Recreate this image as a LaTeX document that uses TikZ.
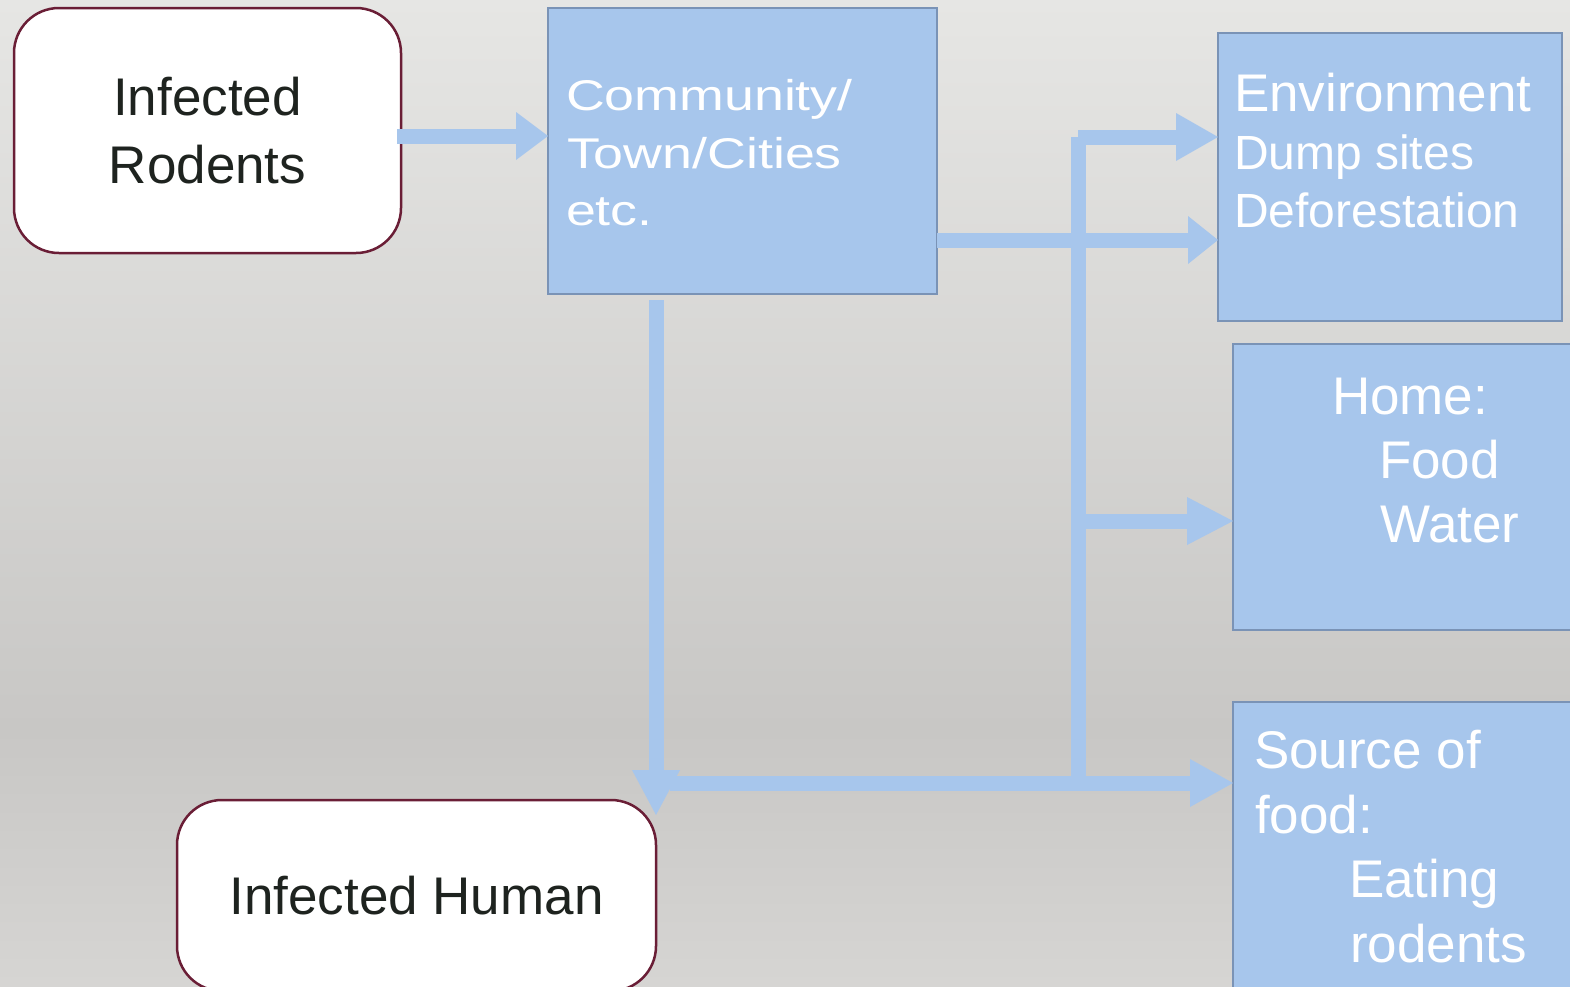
\documentclass[tikz,border=0pt]{standalone}
\usepackage{fontspec}
\setmainfont{Liberation Sans}
\newfontfamily\widefont[FakeStretch=1.25]{Liberation Sans}
\usetikzlibrary{arrows.meta,calc}
\definecolor{boxfill}{HTML}{A7C6EC}
\definecolor{boxline}{HTML}{7A93B6}
\definecolor{rodline}{HTML}{6A1E36}
\definecolor{txtdark}{HTML}{1E231F}
\definecolor{bgtop}{HTML}{E6E6E4}
\definecolor{bgmid}{HTML}{C8C7C5}
\definecolor{bgbot}{HTML}{D6D5D3}
\pgfdeclareverticalshading{bgshade}{100bp}{color(0bp)=(bgbot); color(25bp)=(bgbot); color(38bp)=(bgmid); color(75bp)=(bgtop); color(100bp)=(bgtop)}
\tikzset{
  whitebox/.style={draw=rodline, fill=white, line width=2.5pt, rounded corners=45pt,
    inner sep=0pt, outer sep=0pt, anchor=north west, text=txtdark, align=center,
    font=\fontsize{53}{68}\selectfont},
  bluebox/.style={draw=boxline, fill=boxfill, line width=2.5pt, inner sep=0pt,
    outer sep=0pt, anchor=north west},
  wtxt/.style={text=white, inner sep=0pt, outer sep=0pt, anchor=base west},
  big/.style={font=\fontsize{53}{64}\selectfont},
  mid/.style={font=\fontsize{48}{58}\selectfont},
  wide/.style={font=\widefont\fontsize{43}{58}\selectfont},
  arr/.style={draw=boxfill, line width=15pt},
  tip/.style={-{Triangle[length=#1pt, width=48pt, line width=0pt]}}
}
\begin{document}
\begin{tikzpicture}[x=1pt, y=-1pt]
\useasboundingbox (0,0) rectangle (1570,986);
\shade[shading=bgshade] (0,0) rectangle (1570,986);
\begin{scope}
\clip (0,0) rectangle (1570,986);
% boxes
\node[whitebox, minimum width=387pt, minimum height=245pt] (rod) at (14,8) {Infected\\Rodents};
\node[whitebox, minimum width=479pt, minimum height=191pt] (hum) at (177,800) {Infected Human};
\node[bluebox, minimum width=389pt, minimum height=286pt] (com) at (548,8) {};
\node[bluebox, minimum width=344pt, minimum height=288pt] (env) at (1218,33) {};
\node[bluebox, minimum width=345pt, minimum height=286pt] (home) at (1233,344) {};
\node[bluebox, minimum width=345pt, minimum height=300pt] (src) at (1233,702) {};
% texts
\node[wtxt, wide] (com1) at (566,110) {Community/};
\node[wtxt, wide] (com2) at (567,168) {Town/Cities};
\node[wtxt, wide] (com3) at (566,225) {etc.};
\node[wtxt, big] (env1) at (1234,111) {Environment};
\node[wtxt, mid] (env2) at (1234,169) {Dump sites};
\node[wtxt, mid] (env3) at (1234,227) {Deforestation};
\node[wtxt, big] (home1) at (1332,414) {Home:};
\node[wtxt, big] (home2) at (1379,478) {Food};
\node[wtxt, big] (home3) at (1380,542) {Water};
\node[wtxt, big] (src1) at (1254,768) {Source of};
\node[wtxt, big] (src2) at (1255,833) {food:};
\node[wtxt, big] (src3) at (1349,897) {Eating};
\node[wtxt, big] (src4) at (1350,962) {rodents};
% helper coordinates
\coordinate (ya) at (0,136);
\coordinate (yb) at (0,240);
\coordinate (trtop) at (1078,137);
\coordinate (trbot) at (1078,778);
\coordinate (trh) at (1078,521);
\coordinate (yc) at (0,783);
\coordinate (hzs) at (670,783);
\coordinate (cx) at (656,0);
% connectors
\draw[arr, tip=32] ($(rod.east |- ya)+(-4,0)$) -- (com.west |- ya);
\draw[arr, tip=30] (com.east |- yb) -- (env.west |- yb);
\draw[arr] (trtop) -- (trbot);
\draw[arr, tip=42] (trtop) -- (env.west |- trtop);
\draw[arr, tip=46] (trh) -- (home.west |- trh);
\draw[arr, tip=43] (hzs) -- (src.west |- yc);
\draw[arr, tip=45] ($(com.south -| cx)+(0,6)$) -- ($(hum.north east)+(0,15)$);
\end{scope}
\end{tikzpicture}
\end{document}
